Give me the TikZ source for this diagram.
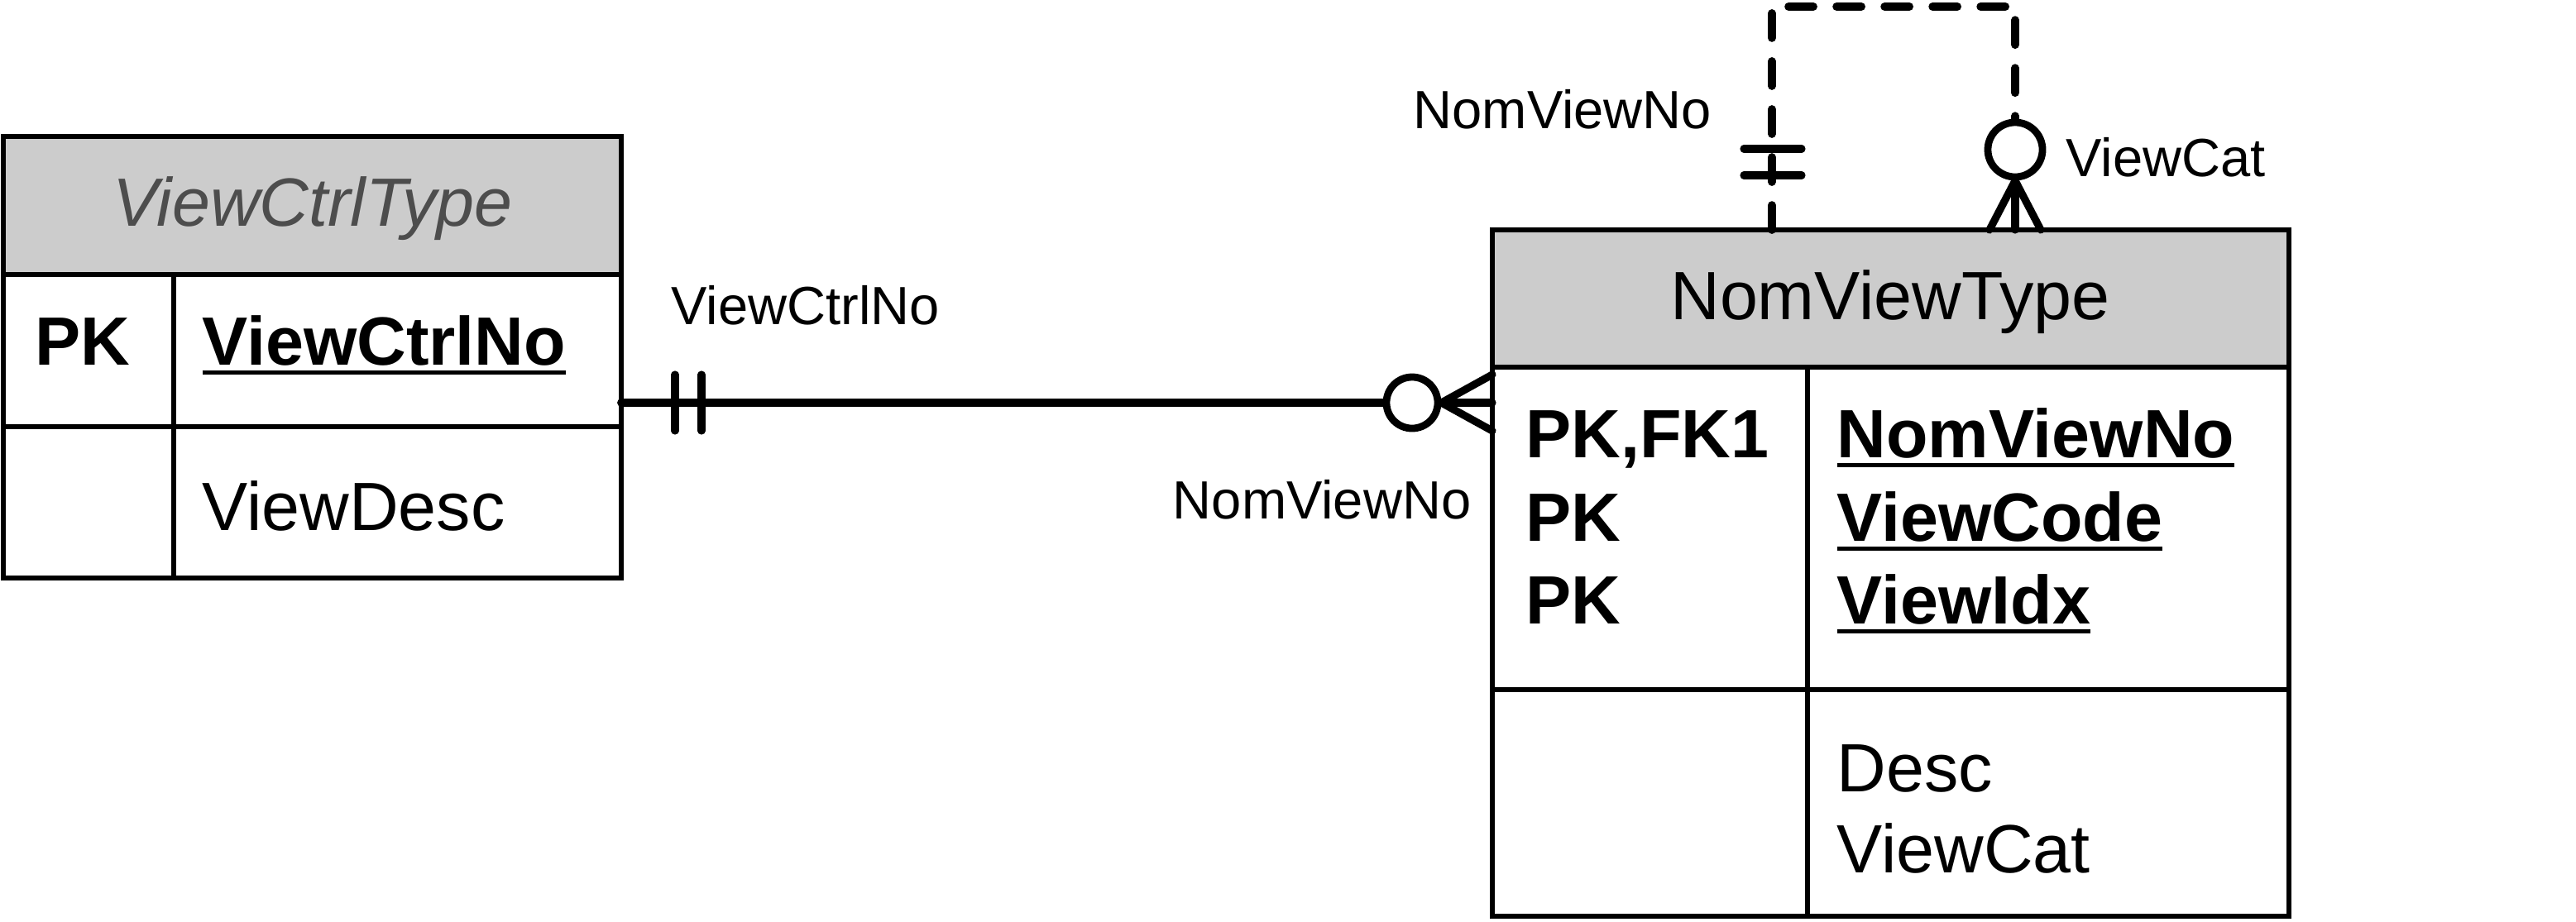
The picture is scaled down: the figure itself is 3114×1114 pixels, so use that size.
\documentclass[tikz,border=0pt]{standalone}
\usepackage{fontspec}
\setmainfont{Liberation Sans}
\usetikzlibrary{fit,calc}
\definecolor{hdrgray}{HTML}{CCCCCC}
\definecolor{ttlgray}{HTML}{4D4D4D}
\newcommand\ulin[1]{\setbox0\hbox{#1}\rlap{\vrule width\wd0 height -1.9pt depth 3.4pt}\box0}
\begin{document}
\begin{tikzpicture}[x=0.01cm,y=-0.01cm,
 tline/.style={draw=black,line width=1.6pt},
 tbox/.style={tline, inner sep=0pt},
 thead/.style={tbox, fill=hdrgray},
 big/.style={inner sep=0pt, font=\fontsize{23.5}{28}\selectfont},
 bigb/.style={inner sep=0pt, font=\fontsize{23.5}{28}\selectfont\bfseries},
 lbl/.style={inner sep=0pt, font=\fontsize{18.5}{22}\selectfont},
 relline/.style={line width=2.8pt, line cap=round},
 dashrel/.style={relline, dash pattern=on 8.5pt off 8pt},
 endsym/.style={line width=2.6pt, line cap=round},
 ocirc/.style={circle, draw=black, fill=white, line width=2.5pt, inner sep=0pt},
]
\useasboundingbox (0,0) rectangle (3114,1114);

% ---- left table ViewCtrlType
\node[thead, fit={(4,165)(751,332)}] (vcthead) {};
\node[tbox, fit={(4,332)(751,516)}] (vctkey) {};
\node[tbox, fit={(4,516)(751,699)}] (vctattr) {};
\draw[tline] (210,332) -- (210,699);
\node[big, anchor=base, text=ttlgray, font=\fontsize{23.5}{28}\selectfont\itshape] (vcttitle) at (378,273) {ViewCtrlType};
\node[bigb, anchor=base west] (vctpk) at (42,441) {PK};
\node[bigb, anchor=base west] (vctno) at (244,441) {\ulin{ViewCtrlNo}};
\node[big, anchor=base west] (vctdesc) at (244,641) {ViewDesc};

% ---- right table NomViewType
\node[thead, fit={(1804,278)(2767,444)}] (nvthead) {};
\node[tbox, fit={(1804,444)(2767,834)}] (nvtkey) {};
\node[tbox, fit={(1804,834)(2767,1108)}] (nvtattr) {};
\draw[tline] (2185,444) -- (2185,1108);
\node[big, anchor=base] (nvttitle) at (2285,386) {NomViewType};
\node[bigb, anchor=base west] (nvtk1) at (1844,553) {PK,FK1};
\node[bigb, anchor=base west] (nvtk2) at (1844,654) {PK};
\node[bigb, anchor=base west] (nvtk3) at (1844,754) {PK};
\node[bigb, anchor=base west] (nvtf1) at (2220,553) {\ulin{NomViewNo}};
\node[bigb, anchor=base west] (nvtf2) at (2220,654) {\ulin{ViewCode}};
\node[bigb, anchor=base west] (nvtf3) at (2220,754) {\ulin{ViewIdx}};
\node[big, anchor=base west] (nvtd1) at (2220,957) {Desc};
\node[big, anchor=base west] (nvtd2) at (2220,1055) {ViewCat};

% ---- relationship ViewCtrlType -> NomViewType
\coordinate (a1) at (751,487);
\coordinate (b1) at (1804,487);
\node[ocirc, minimum size=0.62cm] (o1) at (1707,487) {};
\draw[relline] (a1) -- (o1.west);
\draw[endsym] (o1.east) -- (b1);
\draw[endsym] (o1.east) -- ($(b1)+(0,-34)$);
\draw[endsym] (o1.east) -- ($(b1)+(0,34)$);
\draw[endsym] (816,453) -- (816,521);
\draw[endsym] (848,453) -- (848,521);
\node[lbl, anchor=base west] (l1) at (811,392) {ViewCtrlNo};
\node[lbl, anchor=base east] (l2) at (1779,627) {NomViewNo};

% ---- self relationship on NomViewType
\coordinate (s1) at (2142,278);
\coordinate (s2) at (2436,278);
\node[ocirc, minimum size=0.66cm] (o2) at (2436,181) {};
\draw[dashrel] (s1) -- (2142,8) -- (2436,8) -- (o2.north);
\draw[endsym] (2108,180) -- (2178,180);
\draw[endsym] (2108,212) -- (2178,212);
\draw[endsym] (o2.south) -- (s2);
\draw[endsym] (o2.south) -- ($(s2)+(-31,0)$);
\draw[endsym] (o2.south) -- ($(s2)+(31,0)$);
\node[lbl, anchor=base west] (l3) at (1708,155) {NomViewNo};
\node[lbl, anchor=base west] (l4) at (2497,213) {ViewCat};
\end{tikzpicture}
\end{document}
